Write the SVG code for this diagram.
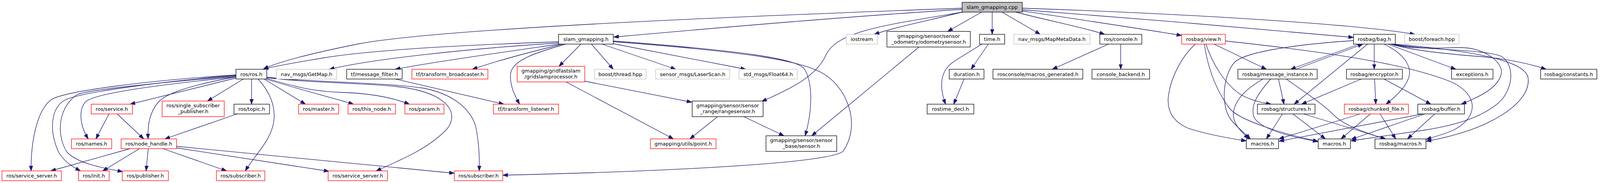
<svg xmlns="http://www.w3.org/2000/svg" width="4150" height="469" viewBox="0 0 4150 469">
<style>
rect{fill:#ffffff;stroke-width:1.3}
.k{stroke:#000000}
.r{stroke:#ff0000}
.gr{stroke:#bfbfbf}
.root{fill:#bfbfbf;stroke:#000000}
text{font-family:"DejaVu Sans","Liberation Sans",sans-serif;font-size:13px;text-anchor:middle;fill:#000000}
#edges path{fill:none;stroke:#191970;stroke-width:1.3;marker-end:url(#a)}
</style>
<defs>
<marker id="a" markerWidth="13" markerHeight="10" refX="13" refY="5" orient="auto" markerUnits="userSpaceOnUse" viewBox="0 0 13 10">
<path d="M0,0.4 L13,5 L0,9.6 z" fill="#191970" stroke="#191970" stroke-width="1"/>
</marker>
</defs>
<rect x="0" y="0" width="4150" height="469" style="fill:#ffffff;stroke:none"/>
<g id="edges">
<path d="M2463,21 C2000,38 1150,70 920,112 C820,132 720,155 674,177"/>
<path d="M2463,24 C2200,40 1850,70 1571,95"/>
<path d="M2465,31 C2260,65 2145,80 2115,140 C2090,195 2030,225 1950,260"/>
<path d="M2463,31 C2380,52 2290,70 2238,88"/>
<path d="M2513,31 L2426,80.5"/>
<path d="M2540,31 L2540,88"/>
<path d="M2565,31 L2663,88"/>
<path d="M2600,31 C2680,52 2780,72 2828,88"/>
<path d="M2617,28 C2750,48 2950,78 3025,91"/>
<path d="M2617,25 C2850,42 3300,80 3465,96"/>
<path d="M2617,21 C2950,32 3450,58 3622,88"/>
<path d="M1430,107 C1200,115 950,128 830,148 C760,160 710,168 674,177"/>
<path d="M1430,110 C1200,125 960,150 843,177.5"/>
<path d="M1432,113 C1300,132 1100,160 1012,177.5"/>
<path d="M1440,113 C1350,135 1260,160 1209,177.5"/>
<path d="M1448,113 C1370,135 1310,155 1307,190 C1305,220 1318,245 1330,267"/>
<path d="M1487,113 L1431,170"/>
<path d="M1514,113 L1570,177.5"/>
<path d="M1541,113 L1730,177.5"/>
<path d="M1570,112 L1909,177.5"/>
<path d="M1570,105 C1900,130 2035,150 2058,175 C2082,210 2080,285 2061,348"/>
<path d="M1570,107 C1950,135 2060,160 2110,190 C2170,228 2205,320 2158,388 C2110,425 1550,443 1287,449"/>
<path d="M2352,121 L2078,348"/>
<path d="M2530,113 L2486,177.5"/>
<path d="M2513,113 C2465,145 2430,160 2420,180 C2405,205 2410,240 2421,267"/>
<path d="M2468,202.5 L2441.5,267"/>
<path d="M2838,113 L2694,177.5"/>
<path d="M2869,113 L2869,177.5"/>
<path d="M1497,208 L1771,262"/>
<path d="M1449,210 L1724,356"/>
<path d="M1837,299 L1766,356"/>
<path d="M1904,299 L2007,348"/>
<path d="M1012,202.5 L1290,267"/>
<path d="M604,200 L333,267"/>
<path d="M623,202.5 L531,259"/>
<path d="M644,202.5 L644,267"/>
<path d="M661,202.5 C690,235 706,270 701,310 C695,360 650,400 628,438"/>
<path d="M604,197 C400,218 255,238 223,258 C200,275 203,320 226,356"/>
<path d="M604,197 C480,220 425,240 405,262 C382,290 378,320 379,356"/>
<path d="M604,192 C400,205 160,232 129,257 C95,285 79,360 79.5,438"/>
<path d="M604,193 C400,210 200,238 165,257 C130,278 125,335 150,390 C165,415 185,427 206,438"/>
<path d="M604,195 C400,213 240,228 198,242 C155,270 140,335 170,388 C195,418 260,430 314,440"/>
<path d="M676,202.5 L782,267"/>
<path d="M681,202.5 C750,225 850,250 905,267"/>
<path d="M683,201 C780,230 820,235 880,237 C960,240 1010,252 1048,267"/>
<path d="M683,199 C800,214 950,212 1040,225 C1160,245 1175,300 1140,335 C1090,385 1020,412 963,438"/>
<path d="M683,198 C800,211 985,211 1085,226 C1165,242 1212,285 1220,335 C1228,385 1227,410 1227,438"/>
<path d="M333,381 L130,438"/>
<path d="M357,381 L263,438"/>
<path d="M379.5,381 L374,438"/>
<path d="M417,381 L580,438"/>
<path d="M452,375 L1163,444"/>
<path d="M452,379 L842,439"/>
<path d="M279,292 L245.5,356"/>
<path d="M300,292 L368,356"/>
<path d="M607,292 L422,356"/>
<path d="M3060,113 C3030,140 3000,190 2992,240 C2985,280 3000,310 3040,328 C3090,345 3150,355 3190.5,361"/>
<path d="M3083,113 C3090,160 3105,220 3147,277 C3170,308 3290,345 3374,362"/>
<path d="M3253,202.5 C3220,240 3200,270 3210,300 C3225,330 3300,350 3374,363"/>
<path d="M3087,113 C3105,165 3135,215 3177,243 C3205,258 3230,263 3254,267"/>
<path d="M3108,113 L3242,177.5"/>
<path d="M3137,105 C3350,128 3600,160 3720,212 C3785,245 3785,300 3722,333 C3700,343 3675,350 3651,357"/>
<path d="M3465,104 C3300,115 3185,135 3160,160 C3130,195 3125,270 3150,305 C3165,325 3185,340 3201,356"/>
<path d="M3233,202.5 C3195,225 3165,250 3158,285 C3152,315 3180,340 3197,356"/>
<path d="M3283,292 L3242,356"/>
<path d="M3482,292 L3274,356"/>
<path d="M3642,292 L3274,362"/>
<path d="M3479,113 L3304,177.5"/>
<path d="M3317,177.5 L3489,113"/>
<path d="M3501,113 L3313,267"/>
<path d="M3485,202.5 L3332,267"/>
<path d="M3518,113 L3518,177.5"/>
<path d="M3543,113 C3600,140 3615,175 3606,200 C3597,225 3570,250 3548,267"/>
<path d="M3553,113 L3727,177.5"/>
<path d="M3560,113 C3620,130 3700,138 3790,145 C3870,152 3920,165 3958,177.5"/>
<path d="M3562,113 C3620,128 3680,122 3740,122 C3800,122 3850,160 3843,190 C3835,225 3790,247 3741,267"/>
<path d="M3566,113 C3650,130 3800,125 3845,145 C3880,170 3872,230 3838,262 C3795,300 3730,320 3650,333 C3570,345 3500,355 3458,361"/>
<path d="M3568,113 C3700,125 3905,145 3912,200 C3920,265 3810,335 3651,362"/>
<path d="M3273,202.5 L3287,267"/>
<path d="M3293,202.5 C3330,230 3380,260 3420,300 C3450,325 3500,342 3547,356"/>
<path d="M3310,292 L3393,356"/>
<path d="M3337,292 L3547,356"/>
<path d="M3508,292 L3433,356"/>
<path d="M3533,292 L3573,356"/>
<path d="M3519,202.5 L3522,267"/>
<path d="M3543,202.5 L3663,267"/>
<path d="M3648,292 L3459,357"/>
<path d="M3673,292 L3603,356"/>
</g>
<g id="n_cpp"><rect class="root" x="2463" y="6" width="154" height="25"/><text x="2540" y="23">slam_gmapping.cpp</text></g>
<g id="n_sgh"><rect class="k" x="1430" y="88" width="140" height="25"/><text x="1500" y="105">slam_gmapping.h</text></g>
<g id="n_iostream"><rect class="gr" x="2166.5" y="88" width="79.5" height="25"/><text x="2206.25" y="105">iostream</text></g>
<g id="n_odom"><rect class="k" x="2270.5" y="80.5" width="213.5" height="40"/><text x="2377.25" y="96.5">gmapping/sensor/sensor</text><text x="2377.25" y="111.5">_odometry/odometrysensor.h</text></g>
<g id="n_time"><rect class="k" x="2507.5" y="88" width="64.5" height="25"/><text x="2539.75" y="105">time.h</text></g>
<g id="n_mapmeta"><rect class="gr" x="2595.5" y="88" width="195" height="25"/><text x="2693" y="105">nav_msgs/MapMetaData.h</text></g>
<g id="n_console"><rect class="k" x="2815.5" y="88" width="107.5" height="25"/><text x="2869.25" y="105">ros/console.h</text></g>
<g id="n_view"><rect class="r" x="3025" y="88" width="112" height="25"/><text x="3081" y="105">rosbag/view.h</text></g>
<g id="n_bag"><rect class="k" x="3465" y="88" width="107" height="25"/><text x="3518.5" y="105">rosbag/bag.h</text></g>
<g id="n_foreach"><rect class="gr" x="3596" y="88" width="139" height="25"/><text x="3665.5" y="105">boost/foreach.hpp</text></g>
<g id="n_rosh"><rect class="k" x="604" y="177.5" width="79" height="25"/><text x="643.5" y="194.5">ros/ros.h</text></g>
<g id="n_getmap"><rect class="gr" x="707.5" y="177.5" width="154.5" height="25"/><text x="784.75" y="194.5">nav_msgs/GetMap.h</text></g>
<g id="n_msgfilter"><rect class="k" x="887.5" y="177.5" width="142" height="25"/><text x="958.5" y="194.5">tf/message_filter.h</text></g>
<g id="n_broadcaster"><rect class="r" x="1054.5" y="177.5" width="194.5" height="25"/><text x="1151.75" y="194.5">tf/transform_broadcaster.h</text></g>
<g id="n_gsp"><rect class="r" x="1324" y="170" width="173" height="40"/><text x="1410.5" y="186">gmapping/gridfastslam</text><text x="1410.5" y="201">/gridslamprocessor.h</text></g>
<g id="n_thread"><rect class="gr" x="1522" y="177.5" width="132" height="25"/><text x="1588" y="194.5">boost/thread.hpp</text></g>
<g id="n_laserscan"><rect class="gr" x="1678.5" y="177.5" width="189.5" height="25"/><text x="1773.25" y="194.5">sensor_msgs/LaserScan.h</text></g>
<g id="n_float64"><rect class="gr" x="1892" y="177.5" width="149" height="25"/><text x="1966.5" y="194.5">std_msgs/Float64.h</text></g>
<g id="n_duration"><rect class="k" x="2430" y="177.5" width="89" height="25"/><text x="2474.5" y="194.5">duration.h</text></g>
<g id="n_macrosgen"><rect class="k" x="2542" y="177.5" width="230" height="25"/><text x="2657" y="194.5">rosconsole/macros_generated.h</text></g>
<g id="n_backend"><rect class="k" x="2795.5" y="177.5" width="147.5" height="25"/><text x="2869.25" y="194.5">console_backend.h</text></g>
<g id="n_msginst"><rect class="k" x="3169" y="177.5" width="203" height="25"/><text x="3270.5" y="194.5">rosbag/message_instance.h</text></g>
<g id="n_encryptor"><rect class="k" x="3447" y="177.5" width="143" height="25"/><text x="3518.5" y="194.5">rosbag/encryptor.h</text></g>
<g id="n_exceptions"><rect class="k" x="3716" y="177.5" width="106" height="25"/><text x="3769" y="194.5">exceptions.h</text></g>
<g id="n_constants"><rect class="k" x="3944" y="177.5" width="144" height="25"/><text x="4016" y="194.5">rosbag/constants.h</text></g>
<g id="n_service"><rect class="r" x="233.5" y="267" width="105.5" height="25"/><text x="286.25" y="284">ros/service.h</text></g>
<g id="n_ssp"><rect class="r" x="415" y="259" width="159" height="40"/><text x="494.5" y="275">ros/single_subscriber</text><text x="494.5" y="290">_publisher.h</text></g>
<g id="n_topic"><rect class="k" x="599" y="267" width="91" height="25"/><text x="644.5" y="284">ros/topic.h</text></g>
<g id="n_master"><rect class="r" x="764.5" y="267" width="102.5" height="25"/><text x="815.75" y="284">ros/master.h</text></g>
<g id="n_thisnode"><rect class="r" x="891" y="267" width="121.5" height="25"/><text x="951.75" y="284">ros/this_node.h</text></g>
<g id="n_param"><rect class="r" x="1036.5" y="267" width="100" height="25"/><text x="1086.5" y="284">ros/param.h</text></g>
<g id="n_listener"><rect class="r" x="1263" y="267" width="167" height="25"/><text x="1346.5" y="284">tf/transform_listener.h</text></g>
<g id="n_range"><rect class="k" x="1772" y="259" width="181.5" height="40"/><text x="1862.75" y="275">gmapping/sensor/sensor</text><text x="1862.75" y="290">_range/rangesensor.h</text></g>
<g id="n_rostimedecl"><rect class="k" x="2373.5" y="267" width="119.5" height="25"/><text x="2433.25" y="284">rostime_decl.h</text></g>
<g id="n_structures"><rect class="k" x="3219" y="267" width="147.5" height="25"/><text x="3292.75" y="284">rosbag/structures.h</text></g>
<g id="n_chunked"><rect class="r" x="3441.5" y="267" width="164" height="25"/><text x="3523.5" y="284">rosbag/chunked_file.h</text></g>
<g id="n_buffer"><rect class="k" x="3629.5" y="267" width="119.5" height="25"/><text x="3689.25" y="284">rosbag/buffer.h</text></g>
<g id="n_names"><rect class="r" x="183" y="356" width="103" height="25"/><text x="234.5" y="373">ros/names.h</text></g>
<g id="n_nodehandle"><rect class="r" x="310" y="356" width="142" height="25"/><text x="381" y="373">ros/node_handle.h</text></g>
<g id="n_point"><rect class="r" x="1665" y="356" width="168" height="25"/><text x="1749" y="373">gmapping/utils/point.h</text></g>
<g id="n_sensor"><rect class="k" x="1961" y="348" width="181" height="40"/><text x="2051.5" y="364">gmapping/sensor/sensor</text><text x="2051.5" y="379">_base/sensor.h</text></g>
<g id="n_macros1"><rect class="k" x="3190.5" y="356" width="82.5" height="25"/><text x="3231.75" y="373">macros.h</text></g>
<g id="n_macros2"><rect class="k" x="3374.5" y="356" width="82.5" height="25"/><text x="3415.75" y="373">macros.h</text></g>
<g id="n_rbmacros"><rect class="k" x="3520" y="356" width="130.5" height="25"/><text x="3585.25" y="373">rosbag/macros.h</text></g>
<g id="n_ss1"><rect class="r" x="5" y="438" width="152" height="25"/><text x="81" y="455">ros/service_server.h</text></g>
<g id="n_init"><rect class="r" x="201" y="438" width="78.5" height="25"/><text x="240.25" y="455">ros/init.h</text></g>
<g id="n_publisher"><rect class="r" x="313" y="438" width="118" height="25"/><text x="372" y="455">ros/publisher.h</text></g>
<g id="n_sub1"><rect class="r" x="554" y="438" width="124" height="25"/><text x="616" y="455">ros/subscriber.h</text></g>
<g id="n_ss2"><rect class="r" x="840" y="438" width="152" height="25"/><text x="916" y="455">ros/service_server.h</text></g>
<g id="n_sub2"><rect class="r" x="1163" y="438" width="124" height="25"/><text x="1225" y="455">ros/subscriber.h</text></g>
</svg>
